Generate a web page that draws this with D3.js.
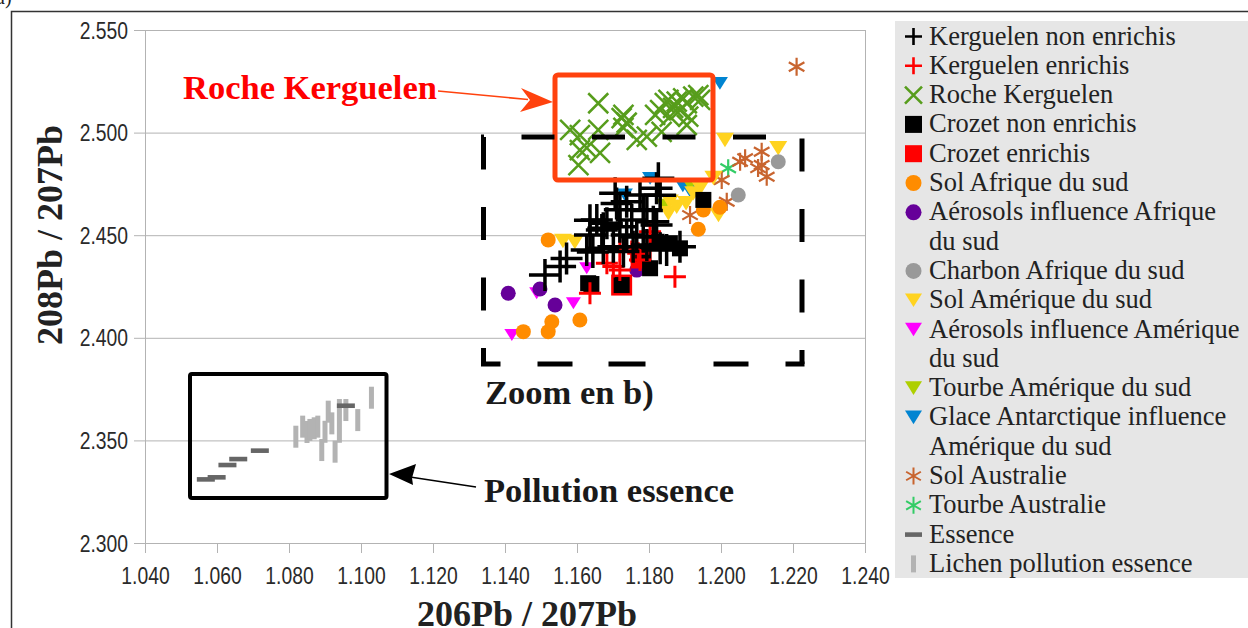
<!DOCTYPE html>
<html><head><meta charset="utf-8">
<script src="https://cdn.jsdelivr.net/npm/d3@7"></script>
<style>body{margin:0;background:#fff;overflow:hidden} svg{display:block}</style>
</head><body><svg id="c" width="1248" height="628"></svg>
<script>
// ---------- DATA ----------
const xTicks = [1.04,1.06,1.08,1.10,1.12,1.14,1.16,1.18,1.20,1.22,1.24];
const yTicks = [2.30,2.35,2.40,2.45,2.50,2.55];
const xTitle = "206Pb / 207Pb";
const yTitle = "208Pb / 207Pb";

const kerguelenNonEnrichis = [[1.1511,2.4306],[1.1571,2.4387],[1.1553,2.4347],[1.1644,2.4418],[1.1636,2.4501],[1.1669,2.4525],[1.1706,2.4704],[1.1738,2.4663],[1.1775,2.4696],[1.1821,2.4729],[1.1826,2.4777],[1.1719,2.4541],[1.1752,2.4574],[1.1766,2.4493],[1.1784,2.4624],[1.1719,2.4624],[1.1683,2.4558],[1.1655,2.4574],[1.1821,2.4550],[1.1849,2.4428],[1.1886,2.4444],[1.1794,2.4452],[1.1701,2.4444],[1.1729,2.4420],[1.1636,2.4573],[1.1710,2.4655],[1.1738,2.4501],[1.1673,2.4436],[1.1627,2.4428],[1.1831,2.4436],[1.1756,2.4444],[1.1812,2.4566],[1.1784,2.4493],[1.1831,2.4695],[1.1794,2.4620],[1.1673,2.4534]];
const kerguelenEnrichis = [[1.1872,2.4298],[1.1701,2.4347],[1.1719,2.4436],[1.1770,2.4412],[1.1775,2.4379],[1.1803,2.4517],[1.1636,2.4217],[1.1683,2.4363],[1.1752,2.4420],[1.1719,2.4330]];
const rocheKerguelen = [[1.1659,2.5143],[1.1581,2.5013],[1.1608,2.4988],[1.1659,2.5013],[1.1729,2.5086],[1.1724,2.5071],[1.1738,2.5048],[1.1729,2.5023],[1.1608,2.4915],[1.1627,2.4925],[1.1664,2.4901],[1.1604,2.4842],[1.1794,2.4980],[1.1817,2.5086],[1.1831,2.5110],[1.1844,2.5144],[1.1854,2.5159],[1.1867,2.5120],[1.1877,2.5151],[1.1886,2.5110],[1.1895,2.5167],[1.1905,2.5143],[1.1909,2.5078],[1.1923,2.5175],[1.1937,2.5183],[1.1942,2.5159],[1.1858,2.5078],[1.1905,2.5037],[1.1835,2.5004],[1.1766,2.4964]];
const crozetNonEnrichis = [[1.1631,2.4266],[1.1640,2.4262],[1.1724,2.4257],[1.1803,2.4339],[1.1951,2.4672],[1.1886,2.4436],[1.1858,2.4461],[1.1821,2.4468],[1.1784,2.4412]];
const crozetEnrichis = [[1.1724,2.4257],[1.1778,2.4389]];
const solAfriqueSud = [[1.1520,2.4477],[1.1451,2.4030],[1.1520,2.4030],[1.1530,2.4078],[1.1608,2.4087],[1.1937,2.4529],[1.1951,2.4623],[1.1997,2.4636]];
const aerosolsAfriqueSud = [[1.1409,2.4217],[1.1497,2.4238],[1.1539,2.4160],[1.1766,2.4330],[1.1831,2.4468]];
const charbonAfriqueSud = [[1.2159,2.4858],[1.2048,2.4696]];
const solAmeriqueSud = [[1.1561,2.4472],[1.1594,2.4467],[1.1854,2.4607],[1.1858,2.4663],[1.1877,2.4639],[1.1923,2.4704],[1.1942,2.4729],[1.1979,2.4779],[1.1993,2.4598],[1.2011,2.4964],[1.2159,2.4924],[1.1903,2.4656]];
const aerosolsAmeriqueSud = [[1.1419,2.4014],[1.1488,2.4217],[1.1590,2.4168],[1.1627,2.4339]];
const tourbeAmeriqueSud = [[1.1914,2.4745],[1.1842,2.4647]];
const glaceAntarctique = [[1.1997,2.5240],[1.1803,2.4777],[1.1894,2.4740],[1.1914,2.4715],[1.1733,2.4696]];
const solAustralie = [[1.2210,2.5321],[1.2067,2.4875],[1.2053,2.4858],[1.2113,2.4907],[1.2113,2.4842],[1.2127,2.4785],[1.2002,2.4769],[1.1914,2.4598],[1.2016,2.4663],[1.2103,2.4827]];
const tourbeAustralie = [[1.2020,2.4826]];
const essence = [[1.0569,2.3310],[1.0599,2.3320],[1.0629,2.3380],[1.0659,2.3409],[1.0719,2.3450],[1.0958,2.3669]];
const lichenPollution = [[1.0819,2.3518],[1.0838,2.3567],[1.0850,2.3541],[1.0858,2.3551],[1.0870,2.3559],[1.0880,2.3567],[1.0891,2.3453],[1.0900,2.3542],[1.0909,2.3640],[1.0919,2.3583],[1.0928,2.3445],[1.0940,2.3542],[1.0940,2.3648],[1.0958,2.3648],[1.0991,2.3599],[1.1029,2.3708]];

const legendLabels = ["Kerguelen non enrichis","Kerguelen enrichis","Roche Kerguelen","Crozet non enrichis","Crozet enrichis","Sol Afrique du sud","Aérosols influence Afrique|du sud","Charbon Afrique du sud","Sol Amérique du sud","Aérosols influence Amérique|du sud","Tourbe Amérique du sud","Glace Antarctique influence|Amérique du sud","Sol Australie","Tourbe Australie","Essence","Lichen pollution essence"];

// ---------- STYLE ----------
const series = [
  {data:kerguelenNonEnrichis, type:"plus", color:"#000000", size:32, sw:3.5},
  {data:kerguelenEnrichis, type:"plus", color:"#ff0000", size:22, sw:3},
  {data:rocheKerguelen, type:"x", color:"#579d1c", size:20, sw:2.5},
  {data:crozetNonEnrichis, type:"square", color:"#000000", size:16},
  {data:crozetEnrichis, type:"square", color:"#ff0000", size:21},
  {data:solAfriqueSud, type:"circle", color:"#ff8c00", size:15},
  {data:aerosolsAfriqueSud, type:"circle", color:"#660099", size:15},
  {data:charbonAfriqueSud, type:"circle", color:"#999999", size:15},
  {data:solAmeriqueSud, type:"tri", color:"#ffd320", size:18},
  {data:aerosolsAmeriqueSud, type:"tri", color:"#ff00ff", size:15},
  {data:tourbeAmeriqueSud, type:"tri", color:"#aecf00", size:16},
  {data:glaceAntarctique, type:"tri", color:"#0084d1", size:16},
  {data:solAustralie, type:"ast", color:"#c8642f", size:18, sw:2.2},
  {data:tourbeAustralie, type:"ast", color:"#33cc66", size:18, sw:2.2},
  {data:essence, type:"hbar", color:"#666666", size:18},
  {data:lichenPollution, type:"vbar", color:"#b3b3b3", size:22}
];

const svg = d3.select("#c");
const W=1248,H=628;
const plot = {l:145, r:865, t:30, b:543};
const x = d3.scaleLinear().domain([1.04,1.24]).range([plot.l,plot.r]);
const y = d3.scaleLinear().domain([2.30,2.55]).range([plot.b,plot.t]);

// outer frame
svg.append("path").attr("d",`M11.5,${H} V11.5 H${W}`).attr("fill","none").attr("stroke","#333").attr("stroke-width",1.5);
svg.append("text").attr("x",-4).attr("y",4).attr("font-family","Liberation Serif").attr("font-size",20).attr("fill","#222").text("a)");

// plot background
svg.append("rect").attr("x",plot.l).attr("y",plot.t).attr("width",plot.r-plot.l).attr("height",plot.b-plot.t).attr("fill","#fff");

// grid
const grid = svg.append("g").attr("transform",`translate(${plot.l},0)`)
  .call(d3.axisLeft(y).tickValues(yTicks).tickSize(-(plot.r-plot.l)).tickFormat(""));
grid.select(".domain").remove();
grid.selectAll("line").attr("stroke","#b3b3b3").attr("stroke-width",1);

// plot border
svg.append("rect").attr("x",plot.l+0.5).attr("y",plot.t+0.5).attr("width",plot.r-plot.l).attr("height",plot.b-plot.t)
  .attr("fill","none").attr("stroke","#b3b3b3").attr("stroke-width",1);

// axes
const tickFont = "'Liberation Sans',Arial,sans-serif";
function narrow(sel, f){ sel.each(function(){ const w=this.getComputedTextLength(); d3.select(this).attr("textLength",w*f).attr("lengthAdjust","spacingAndGlyphs"); }); }
const yAx = svg.append("g").attr("transform",`translate(${plot.l},0)`)
  .call(d3.axisLeft(y).tickValues(yTicks).tickSize(11).tickPadding(6).tickFormat(d3.format(".3f")));
yAx.select(".domain").remove();
yAx.selectAll("line").attr("stroke","#b3b3b3");
yAx.selectAll("text").attr("font-family",tickFont).attr("font-size",23).attr("fill","#2a2a2a").attr("dy","0.35em");
narrow(yAx.selectAll("text"),0.84);

const xAx = svg.append("g").attr("transform",`translate(0,${plot.b})`)
  .call(d3.axisBottom(x).tickValues(xTicks).tickSize(10).tickPadding(15).tickFormat(d3.format(".3f")));
xAx.select(".domain").remove();
xAx.selectAll("line").attr("stroke","#b3b3b3");
xAx.selectAll("text").attr("font-family",tickFont).attr("font-size",23).attr("fill","#2a2a2a");
narrow(xAx.selectAll("text"),0.84);

// titles
svg.append("text").attr("x",527).attr("y",626).attr("text-anchor","middle")
  .attr("font-family","Liberation Serif").attr("font-weight","bold").attr("font-size",36).attr("fill","#222").text(xTitle);
svg.append("text").attr("transform","translate(62,235) rotate(-90)").attr("text-anchor","middle")
  .attr("font-family","Liberation Serif").attr("font-weight","bold").attr("font-size",36).attr("fill","#222").text(yTitle);

// markers
function drawMarker(g, s, cx, cy, size){
  const h = size/2;
  if(s.type==="plus"){
    g.append("path").attr("d",`M${cx-h},${cy}H${cx+h}M${cx},${cy-h}V${cy+h}`).attr("stroke",s.color).attr("stroke-width",s.sw).attr("fill","none");
  } else if(s.type==="x"){
    g.append("path").attr("d",`M${cx-h},${cy-h}L${cx+h},${cy+h}M${cx-h},${cy+h}L${cx+h},${cy-h}`).attr("stroke",s.color).attr("stroke-width",s.sw).attr("fill","none");
  } else if(s.type==="square"){
    g.append("rect").attr("x",cx-h).attr("y",cy-h).attr("width",size).attr("height",size).attr("fill",s.color);
  } else if(s.type==="circle"){
    g.append("circle").attr("cx",cx).attr("cy",cy).attr("r",h).attr("fill",s.color);
  } else if(s.type==="tri"){
    const th = size*0.8;
    g.append("path").attr("d",`M${cx-h},${cy-th/2}L${cx+h},${cy-th/2}L${cx},${cy+th/2}Z`).attr("fill",s.color);
  } else if(s.type==="ast"){
    const a = h*Math.cos(Math.PI/6), b = h*Math.sin(Math.PI/6);
    g.append("path").attr("d",`M${cx},${cy-h}V${cy+h}M${cx-a},${cy-b}L${cx+a},${cy+b}M${cx-a},${cy+b}L${cx+a},${cy-b}`).attr("stroke",s.color).attr("stroke-width",s.sw).attr("fill","none");
  } else if(s.type==="hbar"){
    g.append("rect").attr("x",cx-h).attr("y",cy-2.3).attr("width",size).attr("height",4.6).attr("fill",s.color);
  } else if(s.type==="vbar"){
    g.append("rect").attr("x",cx-2.5).attr("y",cy-h).attr("width",5).attr("height",size).attr("fill",s.color);
  }
}
const mk = svg.append("g");
for(let i=series.length-1;i>=0;i--){
  const s = series[i];
  const g = mk.append("g");
  s.data.forEach(d=>drawMarker(g, s, x(d[0]), y(d[1]), s.size));
}

// annotations
const ann = svg.append("g");
ann.append("rect").attr("x",555).attr("y",75).attr("width",158).attr("height",105).attr("rx",3)
  .attr("fill","none").attr("stroke","#ff420e").attr("stroke-width",5);
ann.append("path").attr("d","M483.5,364 V137 H802 V364")
  .attr("fill","none").attr("stroke","#000").attr("stroke-width",5).attr("stroke-dasharray","33,37.5").attr("stroke-dashoffset",17);
ann.append("path").attr("d","M481,364 H804.5")
  .attr("fill","none").attr("stroke","#000").attr("stroke-width",5).attr("stroke-dasharray","19.5,37,35,36,37,68,35,37,20,400");
ann.append("rect").attr("x",190).attr("y",374).attr("width",196.5).attr("height",124).attr("rx",2)
  .attr("fill","none").attr("stroke","#000").attr("stroke-width",4);
ann.append("line").attr("x1",438).attr("y1",91).attr("x2",528).attr("y2",99.5).attr("stroke","#ff420e").attr("stroke-width",1.6);
ann.append("path").attr("d","M553,102L521,88L530,100L520,112Z").attr("fill","#ff420e");
ann.append("line").attr("x1",476).attr("y1",487).attr("x2",410).attr("y2",477).attr("stroke","#000").attr("stroke-width",1.6);
ann.append("path").attr("d","M389,474L416,464L412,478L413,485Z").attr("fill","#000");
const annFont = {"font-family":"Liberation Serif","font-weight":"bold","font-size":34.5};
function annText(t,xx,yy,col){const e=ann.append("text").attr("x",xx).attr("y",yy).attr("fill",col).text(t);for(const k in annFont)e.attr(k,annFont[k]);}
annText("Roche Kerguelen",183,99,"#ff0000");
annText("Zoom en b)",485,404,"#1a1a1a");
annText("Pollution essence",484,502,"#1a1a1a");

// legend
const lg = svg.append("g");
lg.append("rect").attr("x",895).attr("y",21).attr("width",W-895).attr("height",557).attr("fill","#e6e6e6");
let line=0; const lh=29.3, base0=44.5;
legendLabels.forEach((lab,i)=>{
  const parts = lab.split("|");
  const cy = base0 + line*lh - 8;
  const s = Object.assign({}, series[i]);
  const ls = {plus:17,x:17,square:17,circle:16,tri:17,ast:17,hbar:17,vbar:17}[s.type];
  if(s.type==="plus"||s.type==="x") s.sw=2.6;
  if(s.type==="ast") s.sw=2;
  drawMarker(lg, s, 913.5, cy, ls);
  parts.forEach(p=>{
    lg.append("text").attr("x",929).attr("y",base0+line*lh).attr("font-family","Liberation Serif").attr("font-size",26.5).attr("fill","#222").text(p);
    line++;
  });
});
</script></body></html>
